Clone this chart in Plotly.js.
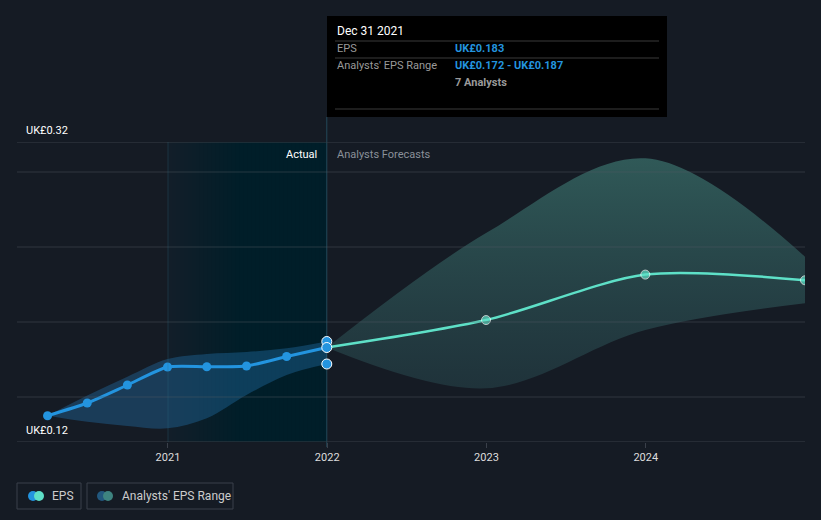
<!DOCTYPE html>
<html>
<head>
<meta charset="utf-8">
<script src="https://cdn.plot.ly/plotly-3.0.1.min.js"></script>
<style>
html,body{margin:0;padding:0;background:#151b24;}
#chart{width:821px;height:520px;}
</style>
</head>
<body>
<div id="chart"></div>
<script>
// ---- data ----
const histDates = ['2020-03-31','2020-06-30','2020-09-30','2020-12-31','2021-03-31','2021-06-30','2021-09-30','2021-12-31'];
const histEps   = [0.1375, 0.146, 0.158, 0.170, 0.1702, 0.1707, 0.177, 0.183];
const histLow   = [0.1375, 0.1335, 0.1307, 0.1291, 0.1358, 0.1513, 0.1647, 0.172];
const histHigh  = [0.1375, 0.151, 0.1635, 0.1753, 0.1787, 0.180, 0.1825, 0.187];

const fcDates = ['2021-12-31','2022-12-31','2023-12-31','2024-12-31'];
const fcEps   = [0.183, 0.2013, 0.2316, 0.2278];
const fcLow   = [0.183, 0.1558, 0.1947, 0.2125];
const fcHigh  = [0.183, 0.2593, 0.3091, 0.2435];

const hoverDate = '2021-12-31';
const hoverVals = [0.187, 0.183, 0.172];

const xTickVals = ['2021-01-01','2022-01-01','2023-01-01','2024-01-01'];
const xTickText = ['2021','2022','2023','2024'];
const gridVals = [0.15, 0.20, 0.25, 0.30];
const edgeVals = [0.12, 0.32];
const yLabels = ['UK£0.32','UK£0.12'];
const yLabelVals = [0.32, 0.12];

// ---- helpers: pixel -> paper ----
const L = 17, R = 805, T = 142, B = 442;
const px = x => (x - L) / (R - L);
const py = y => (B - y) / (B - T);

const BLUE = '#2394df', TEAL = '#5ee0c7';
const FONT = 'Roboto, "Open Sans", sans-serif';

const traces = [
  // historical range
  {x:histDates, y:histLow, mode:'lines', line:{width:0, shape:'spline', smoothing:1}, hoverinfo:'skip', showlegend:false},
  {x:histDates, y:histHigh, mode:'lines', line:{width:0, shape:'spline', smoothing:1}, fill:'tonexty',
   fillcolor:'rgba(35,120,180,0.36)', hoverinfo:'skip', showlegend:false},
  // forecast range
  {x:fcDates, y:fcLow, mode:'lines', line:{width:0, shape:'spline', smoothing:1}, hoverinfo:'skip', showlegend:false},
  {x:fcDates, y:fcHigh, mode:'lines', line:{width:0, shape:'spline', smoothing:1}, fill:'tonexty',
   fillcolor:'rgba(60,120,115,0.42)',
   fillgradient:{type:'vertical', colorscale:[[0,'rgba(50,95,100,0.35)'],[1,'rgba(70,140,130,0.55)']]},
   hoverinfo:'skip', showlegend:false},
  // EPS lines
  {x:histDates, y:histEps, mode:'lines+markers', line:{color:BLUE, width:3, shape:'spline', smoothing:0.6},
   marker:{color:BLUE, size:9}, hoverinfo:'skip', showlegend:false},
  {x:fcDates, y:fcEps, mode:'lines+markers', line:{color:TEAL, width:2.5, shape:'spline', smoothing:0.8},
   marker:{color:TEAL, size:[0,9,9,9]}, hoverinfo:'skip', showlegend:false},
  // hover markers
  {x:hoverVals.map(()=>hoverDate), y:hoverVals, mode:'markers',
   marker:{color:BLUE, size:10, line:{color:'#ffffff', width:1}}, hoverinfo:'skip', showlegend:false}
];

const shapes = [];
// highlighted last-year region: horizontal gradient from stacked translucent rects
const HL0 = 168, HL1 = 327, NS = 40;
shapes.push({type:'rect', xref:'paper', yref:'paper', x0:px(HL0), x1:px(HL1), y0:0, y1:1,
  fillcolor:'#06384c', opacity:0.15, line:{width:0}, layer:'below'});
for (let i = 1; i < NS; i++) {
  shapes.push({type:'rect', xref:'paper', yref:'paper',
    x0:px(HL0 + (HL1-HL0)*i/NS), x1:px(HL1), y0:0, y1:1,
    fillcolor:'#06384c', opacity:0.019, line:{width:0}, layer:'below'});
}
// gridlines drawn above the fills
gridVals.forEach(v => shapes.push({type:'line', xref:'paper', yref:'y', x0:0, x1:1, y0:v, y1:v,
  line:{color:'rgba(80,88,100,0.45)', width:1}, layer:'above'}));
edgeVals.forEach(v => shapes.push({type:'line', xref:'paper', yref:'y', x0:0, x1:1, y0:v, y1:v,
  line:{color:'#393e47', width:1}, layer:'above'}));
shapes.push(
  // faint line at 2021
  {type:'line', xref:'x', yref:'paper', x0:'2021-01-01', x1:'2021-01-01', y0:0, y1:1, line:{color:'rgba(50,110,130,0.3)', width:1}, layer:'above'},
  // line at 2022 up to tooltip
  {type:'line', xref:'x', yref:'paper', x0:'2021-12-31', x1:'2021-12-31', y0:-0.017, y1:py(117), line:{color:'#24495a', width:1}, layer:'below'},
  // tooltip box
  {type:'rect', xref:'paper', yref:'paper', x0:px(327), x1:px(667), y0:py(117), y1:py(16), fillcolor:'#000000', line:{width:0}},
  {type:'line', xref:'paper', yref:'paper', x0:px(335), x1:px(659), y0:py(41), y1:py(41), line:{color:'#3a3a3a', width:1}},
  {type:'line', xref:'paper', yref:'paper', x0:px(335), x1:px(659), y0:py(58), y1:py(58), line:{color:'#3a3a3a', width:1}},
  {type:'line', xref:'paper', yref:'paper', x0:px(335), x1:px(659), y0:py(109), y1:py(109), line:{color:'#3a3a3a', width:1}},
  // legend boxes
  {type:'rect', xref:'paper', yref:'paper', x0:px(17), x1:px(81), y0:py(509), y1:py(483), line:{color:'#3b414b', width:1}, fillcolor:'rgba(0,0,0,0)'},
  {type:'rect', xref:'paper', yref:'paper', x0:px(87), x1:px(233), y0:py(509), y1:py(483), line:{color:'#3b414b', width:1}, fillcolor:'rgba(0,0,0,0)'}
);
function dot(cx, cy, color){
  shapes.push({type:'circle', xref:'paper', yref:'paper', x0:px(cx-5), x1:px(cx+5), y0:py(cy+5), y1:py(cy-5), fillcolor:color, line:{width:0}});
}
dot(33, 496, BLUE); dot(39, 496, TEAL);
dot(102, 496, '#22587e'); dot(108, 496, '#3e8480');

function ann(text, x, y, opts){
  return Object.assign({text:text, xref:'paper', yref:'paper', x:px(x), y:py(y), showarrow:false,
    xanchor:'left', yanchor:'middle', font:{family:FONT, size:11, color:'#ffffff'}}, opts||{});
}
const annotations = [
  ann('Dec 31 2021', 335, 31, {font:{family:FONT, size:12, color:'#ffffff'}}),
  ann('EPS', 335, 49, {font:{family:FONT, size:11, color:'#9a9a9a'}}),
  ann('<b>UK£0.183</b>', 453, 49, {font:{family:FONT, size:11, color:BLUE}}),
  ann("Analysts' EPS Range", 335, 66, {font:{family:FONT, size:11, color:'#9a9a9a'}}),
  ann('<b>UK£0.172 - UK£0.187</b>', 453, 66, {font:{family:FONT, size:11, color:BLUE}}),
  ann('<b>7 Analysts</b>', 453, 83, {font:{family:FONT, size:11, color:'#9a9a9a'}}),
  ann('Actual', 319, 154, {xanchor:'right', font:{family:FONT, size:11, color:'#ffffff'}}),
  ann('Analysts Forecasts', 335, 154, {font:{family:FONT, size:11, color:'#8a9099'}}),
  ann('EPS', 50, 496, {font:{family:FONT, size:12, color:'#cccccc'}}),
  ann("Analysts' EPS Range", 120, 496, {font:{family:FONT, size:12, color:'#cccccc'}})
];
yLabels.forEach((t,i)=>{
  annotations.push({text:t, xref:'paper', yref:'y', x:px(24), y:yLabelVals[i], yshift:12, showarrow:false,
    xanchor:'left', yanchor:'middle', font:{family:FONT, size:11, color:'#ffffff'}});
});

const layout = {
  width:821, height:520,
  paper_bgcolor:'#151b24', plot_bgcolor:'#151b24',
  margin:{l:L, r:821-R, t:T, b:520-B},
  showlegend:false,
  xaxis:{type:'date', range:['2020-01-21','2024-12-31'], tickvals:xTickVals, ticktext:xTickText,
    showgrid:false, zeroline:false, ticks:'outside', ticklen:5, tickcolor:'#3a404a',
    tickfont:{family:FONT, size:11, color:'#dddddd'}, showline:false, fixedrange:true},
  yaxis:{range:[0.12,0.32], showticklabels:false, showgrid:false,
    zeroline:false, showline:false, fixedrange:true},
  shapes:shapes, annotations:annotations,
  font:{family:FONT}
};
Plotly.newPlot('chart', traces, layout, {displayModeBar:false, staticPlot:true});
</script>
</body>
</html>
